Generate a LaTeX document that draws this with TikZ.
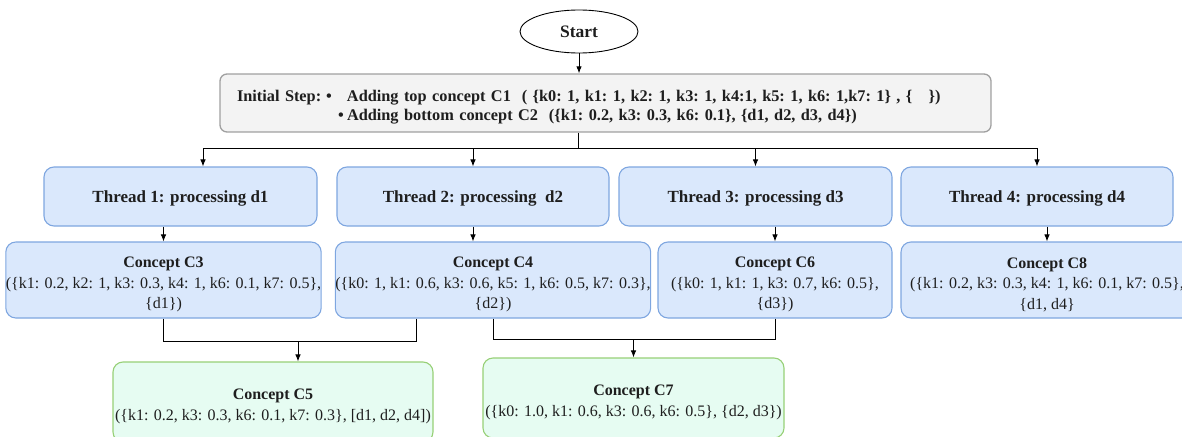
\documentclass[tikz,border=0pt]{standalone}
\usepackage{fontspec}
\setmainfont{Liberation Serif}
\usetikzlibrary{arrows.meta,shapes.geometric}
\definecolor{bluefill}{HTML}{DAE8FC}
\definecolor{blueline}{HTML}{7EA6E0}
\definecolor{greenfill}{HTML}{E6FCF2}
\definecolor{greenline}{HTML}{97D077}
\definecolor{grayfill}{HTML}{F3F3F3}
\definecolor{grayline}{HTML}{A0A0A0}
\definecolor{txt}{HTML}{1E1E1E}
\newcommand{\upstrut}{\rule{0pt}{20pt}}
\tikzset{
  box/.style={rectangle, rounded corners=10pt, inner sep=0pt, align=center, text=txt, line width=1.1pt},
  threadbox/.style={box, fill=bluefill, draw=blueline, minimum height=59pt, font=\fontsize{17}{20}\selectfont\bfseries},
  conceptbox/.style={box, fill=bluefill, draw=blueline, minimum height=76pt, font=\fontsize{16}{20.5}\selectfont},
  mergebox/.style={box, fill=greenfill, draw=greenline, minimum height=80pt, font=\fontsize{16}{21}\selectfont},
  arr/.style={-{Latex[length=7pt,width=5.5pt]}, line width=0.9pt, black},
  link/.style={line width=0.9pt, black}
}
\begin{document}
\begin{tikzpicture}[x=1pt,y=-1pt]
\useasboundingbox (0,0) rectangle (1182,436);
\clip (0,0) rectangle (1182,436);
% start
\node[ellipse, draw=black, line width=0.9pt, minimum width=118pt, minimum height=43pt, inner sep=0pt, font=\fontsize{17.5}{20}\selectfont\bfseries, text=txt] (start) at (579,31.5) {Start};
% initial step
\node[rectangle, rounded corners=7pt, fill=grayfill, draw=grayline, line width=1.3pt, minimum width=771pt, minimum height=58pt, text width=737pt, inner xsep=17pt, inner ysep=0pt, align=left, text=txt, font=\fontsize{16.3}{19}\selectfont\bfseries\frenchspacing] (init) at (605.5,103)
{\rule{0pt}{19pt}\makebox[89pt][l]{Initial Step:}\makebox[21pt][l]{\textbullet}Adding top concept C1~~( \{k0: 1, k1: 1, k2: 1, k3: 1, k4:1, k5: 1, k6: 1,k7: 1\} , \{~~~\})\\
\hspace*{101pt}\makebox[9pt][l]{\textbullet}Adding bottom concept C2~~(\{k1: 0.2, k3: 0.3, k6: 0.1\}, \{d1, d2, d3, d4\})};
% threads
\node[threadbox, minimum width=273pt] (t1) at (180.5,196.5) {\rule{0pt}{15pt}Thread 1: processing d1};
\node[threadbox, minimum width=272pt] (t2) at (473,196.5) {\rule{0pt}{15pt}Thread 2: processing~ d2};
\node[threadbox, minimum width=273pt] (t3) at (755.5,196.5) {\rule{0pt}{15pt}Thread 3: processing d3};
\node[threadbox, minimum width=272pt] (t4) at (1037,196.5) {\rule{0pt}{15pt}Thread 4: processing d4};
% concepts
\node[conceptbox, minimum width=311pt] (c3) at (163.5,280) {\upstrut\textbf{Concept C3}\\(\{k1: 0.2, k2: 1, k3: 0.3, k4: 1, k6: 0.1, k7: 0.5\},\\\{d1\})};
\node[conceptbox, minimum width=310pt] (c4) at (493,280) {\upstrut\textbf{Concept C4}\\(\{k0: 1, k1: 0.6, k3: 0.6, k5: 1, k6: 0.5, k7: 0.3\},\\\{d2\})};
\node[conceptbox, minimum width=234pt] (c6) at (775,280) {\upstrut\textbf{Concept C6}\\(\{k0: 1, k1: 1, k3: 0.7, k6: 0.5\},\\\{d3\})};
\node[conceptbox, minimum width=292pt] (c8) at (1047,280) {\upstrut\textbf{Concept C8}\\(\{k1: 0.2, k3: 0.3, k4: 1, k6: 0.1, k7: 0.5\},\\\{d1, d4\}};
% merged concepts
\node[mergebox, minimum width=320pt] (c5) at (273,402) {\upstrut\textbf{Concept C5}\\(\{k1: 0.2, k3: 0.3, k6: 0.1, k7: 0.3\}, [d1, d2, d4])};
\node[mergebox, minimum width=301pt] (c7) at (633.5,398) {\upstrut\textbf{Concept C7}\\(\{k0: 1.0, k1: 0.6, k3: 0.6, k6: 0.5\}, \{d2, d3\})};
% connectors
\draw[arr] (start.south) -- (start.south |- init.north);
\coordinate (j0) at (578,148);
\draw[link] (init.south -| j0) -- (j0);
\draw[arr] (j0) -| ([xshift=22.5pt]t1.north);
\draw[arr] (j0) -| (t2.north);
\draw[arr] (j0) -| (t3.north);
\draw[arr] (j0) -| (t4.north);
\draw[arr] (t1.south -| c3.north) -- (c3.north);
\draw[arr] (t2.south) -- (t2.south |- c4.north);
\draw[arr] (t3.south -| c6.north) -- (c6.north);
\draw[arr] (t4.south -| c8.north) -- (c8.north);
\coordinate (j1) at (298,341);
\draw[link] (c3.south) |- (j1);
\draw[link] ([xshift=-77pt]c4.south) |- (j1);
\draw[arr] (j1) -- (j1 |- c5.north);
\coordinate (j2) at (633.5,339);
\draw[link] (c4.south) |- (j2);
\draw[link] (c6.south) |- (j2);
\draw[arr] (j2) -- (c7.north);
\end{tikzpicture}
\end{document}
